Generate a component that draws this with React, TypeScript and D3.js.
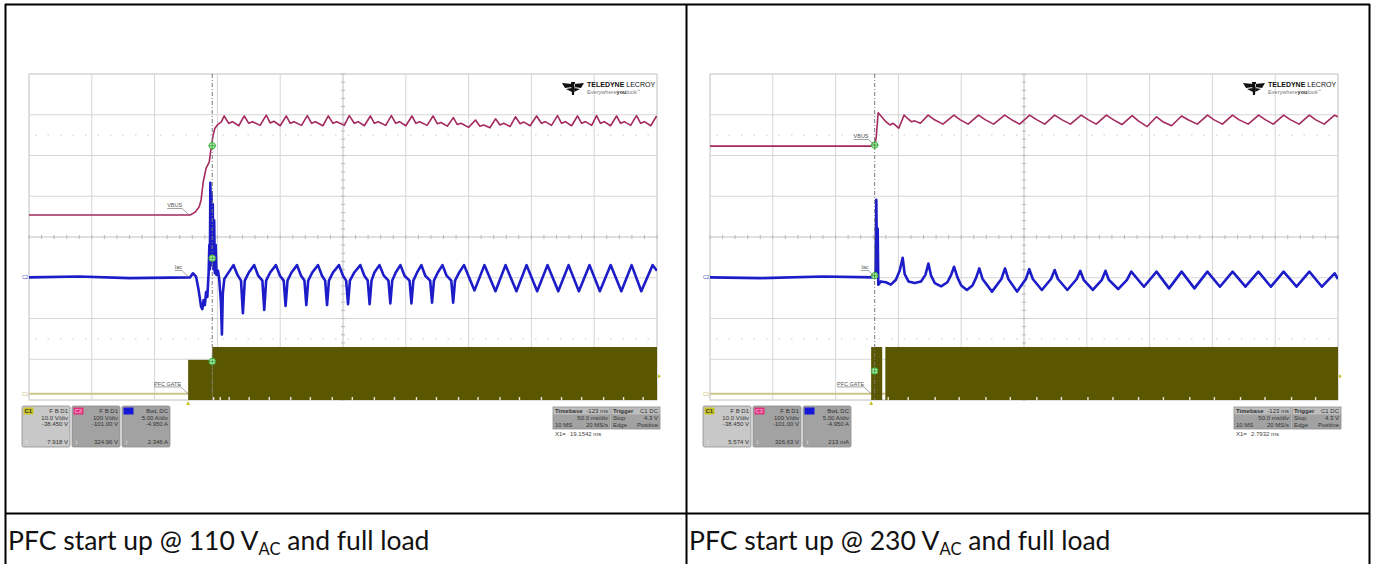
import React from 'react';
import * as d3 from 'd3';

type Pt = [number, number];

// screen: 10 div x 50 ms, 8 div vertical
const timeDivs = [0, 50, 100, 150, 200, 250, 300, 350, 400, 450, 500];
const vertDivs = [-4, -3, -2, -1, 0, 1, 2, 3, 4];

// channel settings (C1 = PFC gate, C2 = VBUS, C3 = Iac)
const channelNames = ['C1', 'C2', 'C3'];
const channelVdiv = [10, 100, 5];
const channelOffset = [-38.45, -101, -4.95];
const channelColors = ['#5b5600', '#a3295e', '#1c1cc8'];
const channelTagColors = ['#c9c323', '#e2307f', '#1616d6'];

const readoutHead = ['F B D1', 'F B D1', 'BwL DC'];
const readoutScale = ['10.0 V/div', '100 V/div', '5.00 A/div'];
const readoutOffset = ['-38.450 V', '-101.00 V', '-4.950 A'];
const timebaseRows = [['Timebase', '-123 ms'], ['', '50.0 ms/div'], ['10 MS', '20 MS/s']];
const triggerRows = [['Trigger', 'C1 DC'], ['Stop', '4.3 V'], ['Edge', 'Positive']];
const triggerLevel = 4.3;

// ---- 110 VAC capture ----
const leftVbus: Pt[] = [
  [0, 155], [126.7, 155], [128.3, 155], [132.3, 162], [135.5, 175], [137, 192], [138.7, 236], [141, 270],
  [143.5, 285], [145, 319], [146.6, 351], [148, 368], [150.6, 378], [153, 383], [155.4, 398],
  [159, 380], [162, 384], [167, 374], [171.4, 398], [175, 380], [178, 384], [184, 375], [188.9, 400],
  [192, 381], [195, 385], [200, 374], [204.8, 398], [208, 380], [211, 384], [217, 375], [221.6, 399],
  [225, 380], [228, 384], [234, 374], [238.3, 398], [242, 380], [245, 384], [251, 375], [255, 399],
  [259, 380], [262, 384], [267, 374], [271.8, 398], [275, 380], [278, 384], [284, 375], [288.5, 399],
  [292, 380], [295, 384], [300, 374], [304.9, 398], [308, 380], [311, 384], [317, 375], [321.7, 398],
  [325, 379], [328, 382], [333, 373], [337.9, 394], [341, 377], [344, 380], [350, 370], [355.5, 388],
  [359, 373], [362, 376], [367, 369], [371.4, 391], [375, 376], [378, 380], [383, 372], [387.3, 396],
  [391, 379], [394, 383], [399, 374], [404.1, 398], [408, 380], [411, 384], [416, 375], [420.8, 399],
  [424, 380], [427, 384], [432, 374], [436.7, 398], [440, 380], [443, 384], [448, 375], [451.9, 399],
  [455, 380], [458, 384], [463, 374], [467.8, 398], [471, 380], [474, 384], [479, 375], [483.7, 399],
  [487, 380], [490, 384], [495, 374], [499.7, 398],
];
const leftIac: Pt[] = [
  [0, 0], [40, 0.1], [80, -0.1], [128.3, 0], [130.5, 0.5], [133, 0.1], [135, -1.5], [137, -3.6], [138, -3.9],
  [139, -2.8], [140, -3.4], [141, -1.8], [142, -2.4], [143, 0.5], [143.6, 4], [144, 1], [144.4, 11.6],
  [144.9, 2], [145.3, 10.5], [145.8, 1.5], [146.3, 9], [146.8, 1], [147.4, 7], [148, 0.5], [148.6, 4],
  [149.3, 0.3], [150.5, 0.8], [151.5, -0.3], [152.8, -3], [153.6, -7], [154.3, -2], [155.5, -0.2], [158, 0.4],
  [162.8, 1.5], [166, 0.3], [168.8, -0.4], [170.3, -4.4], [171.8, -0.4], [175, 0.6], [179.3, 1.5],
  [182.5, 0.2], [185.8, -0.4], [187.3, -4.0], [188.8, -0.4], [192, 0.6], [196.6, 1.5], [199.8, 0.2],
  [202.8, -0.4], [204.3, -3.5], [205.8, -0.4], [209, 0.6], [213.4, 1.5], [216.6, 0.2], [219.3, -0.4],
  [220.8, -3.4], [222.3, -0.4], [225.5, 0.6], [230.1, 1.5], [233.3, 0.2], [235.8, -0.4], [237.3, -3.4],
  [238.8, -0.4], [242, 0.6], [246.8, 1.5], [250, 0.2], [252.5, -0.4], [254, -3.3], [255.5, -0.4],
  [259, 0.6], [263.8, 1.5], [267, 0.2], [269.7, -0.4], [271.2, -3.3], [272.7, -0.4], [275, 0.6],
  [279, 1.5], [282.5, 0.2], [286.2, -0.4], [287.7, -3.2], [289.2, -0.4], [292, 0.6], [295.7, 1.5],
  [299, 0.2], [303, -0.4], [304.5, -3.2], [306, -0.4], [309, 0.6], [312.4, 1.5], [315.5, 0.2],
  [319.4, -0.4], [320.9, -3.1], [322.4, -0.4], [325.5, 0.6], [329.2, 1.5], [332.5, 0.2], [336.2, -0.4],
  [337.7, -3.1], [339.2, -0.4], [342.5, 0.6], [346.3, 1.5], [354.7, -1.6], [362.6, 1.5], [371.4, -1.7],
  [379.4, 1.5], [388.1, -1.7], [396.1, 1.5], [404.6, -1.7], [412.8, 1.5], [421.4, -1.7], [429.6, 1.5],
  [437.8, -1.7], [446.3, 1.5], [454.5, -1.7], [463.1, 1.5], [471.6, -1.7], [479.8, 1.5], [487.5, -1.7],
  [496.5, 1.5], [500, 0.8],
];
const leftGateBase: Pt[] = [[0, 0], [126.7, 0]];
// [t start, t end, low V, high V] envelope of the switching gate drive
const leftGateBlocks = [[126.7, 145.9, -1.55, 8.3], [145.9, 500, -1.55, 11.46]];
const leftGateNotches = [147, 152.3, 159.4, 175.3, 191.3, 208.4, 224, 241.5, 257.4, 275, 291, 308.5, 324.4,
  342, 357.5, 375, 390.5, 408, 424, 440, 457.5, 473.4, 489];
const leftCursorT = 145.9;
const leftTrigT = 126.7;
const leftCursorVals = [7.918, 324.96, 2.346];
const leftReadoutVals = ['7.918 V', '324.96 V', '2.346 A'];
const leftX1 = '19.1542 ms';

// ---- 230 VAC capture ----
const rightVbus: Pt[] = [
  [0, 324], [131, 324], [132.3, 345], [133.9, 406], [137, 395], [140, 384], [143.2, 376], [145.8, 380],
  [150.3, 368], [154.5, 400], [158, 390], [160.3, 384], [163, 386], [167.5, 380], [173.7, 400], [178, 390],
  [185.5, 378], [194.2, 400], [199, 389], [205.5, 378], [213.8, 400], [219, 389], [225.8, 378], [234.6, 400],
  [240, 389], [246.5, 378], [254.5, 400], [260, 389], [266.5, 378], [274.4, 400], [280, 389], [287, 378],
  [295.5, 400], [301, 389], [307.5, 378], [315.6, 400], [321, 389], [328, 377], [336.1, 399], [341, 386],
  [348, 372], [355.5, 396], [361, 383], [367.5, 374], [375.4, 398], [381, 388], [388, 378], [396.1, 400],
  [401, 389], [408, 378], [416, 400], [421, 389], [428.5, 378], [436.8, 400], [442, 389], [448.5, 378],
  [456.7, 400], [462, 389], [469, 378], [477.2, 400], [482, 389], [489, 378], [497.3, 400], [500, 396],
];
const rightIac: Pt[] = [
  [0, 0], [40, -0.1], [90, 0.1], [131, 0], [131.8, 0.5], [132.4, 9.5], [133, 1], [133.5, 6], [134, -0.9],
  [136, -0.5], [140, -0.6], [144, -0.9], [148, -0.3], [151, 0.8], [153.4, 2.4], [155, 0.4], [158, -0.5],
  [163, -0.7], [168, -0.5], [171.5, 0.3], [173.9, 1.7], [176, 0.2], [179, -0.7], [184, -1.1], [189, -0.6],
  [192, 0.3], [194.3, 1.3], [197, 0], [200, -1.0], [204.5, -1.55], [209, -1.0], [212, 0], [214.4, 1.1],
  [217, -0.2], [224.5, -1.75], [232, -0.2], [234.9, 1.1], [237.5, -0.2], [244.5, -1.75], [251.5, -0.2],
  [254.2, 1.0], [257, -0.2], [264.2, -1.55], [271.5, -0.2], [274.4, 0.9], [277, -0.2], [284.5, -1.55],
  [292, -0.2], [294.8, 0.8], [297.5, -0.3], [304.8, -1.55], [312, -0.3], [314.9, 0.8], [317.5, -0.3],
  [325, -1.45], [332, -0.3], [335.4, 0.7], [345.5, -1.15], [355.5, 0.7], [365.5, -1.35], [375.5, 0.7],
  [385.7, -1.35], [396, 0.7], [406, -1.15], [416.1, 0.7], [426.3, -1.15], [436.6, 0.7], [446.6, -1.15],
  [456.7, 0.7], [467, -1.15], [477.2, 0.7], [487.2, -1.15], [497.3, 0.5], [500, -0.2],
];
const rightGateBase: Pt[] = [[0, 0], [139.6, 0]];
const rightGateBlocks = [[128.3, 137.1, -1.55, 11.46], [139.6, 500, -1.55, 11.46]];
const rightGateNotches = [141.9, 157.8, 179.3, 198.4, 219.7, 239.1, 260.2, 279.8, 300.9, 320.8, 341.2, 361,
  382, 401.6, 422.4, 441.9, 463, 482.2];
const rightCursorT = 131.1;
const rightTrigT = 128.3;
const rightCursorVals = [5.574, 326.63, 0.213];
const rightReadoutVals = ['5.574 V', '326.63 V', '213 mA'];
const rightX1 = '2.7932 ms';

const captions = ['110', '230'];

const small = { fontFamily: 'Liberation Sans, Arial, sans-serif', fontSize: 6 };

interface ScopeProps {
  id: string;
  cellX: number;
  vbus: Pt[];
  iac: Pt[];
  gateBase: Pt[];
  gateBlocks: number[][];
  gateNotches: number[];
  cursorT: number;
  trigT: number;
  cursorVals: number[];
  readoutVals: string[];
  x1: string;
}

const Scope: React.FC<ScopeProps> = (p) => {
  const x0 = p.cellX + 23;
  const y0 = 74;
  const w = 628;
  const h = 326;
  const xs = d3.scaleLinear().domain([0, 500]).range([x0, x0 + w]);
  const divY = d3.scaleLinear().domain([-4, 4]).range([y0 + h, y0]);
  const chY = channelVdiv.map((vd, i) => {
    const c = -channelOffset[i];
    return d3.scaleLinear().domain([c - 4 * vd, c + 4 * vd]).range([y0 + h, y0]);
  });
  const [yG, yV, yI] = chY;
  const lineV = d3.line<Pt>().x(d => xs(d[0])).y(d => yV(d[1]));
  const lineI = d3.line<Pt>().x(d => xs(d[0])).y(d => yI(d[1]));
  const lineG = d3.line<Pt>().x(d => xs(d[0])).y(d => yG(d[1]));
  const minorY = d3.range(-4, 4.001, 0.2);
  const minorX = d3.range(0, 500.001, 10);
  const cx = xs(250);
  const cy = divY(0);

  const labels = [
    { text: 'VBUS', x: xs(p.vbus[1][0]) + 1, y: yV(p.vbus[1][1]) },
    { text: 'Iac', x: xs(p.vbus[1][0]) + 1, y: yI(0) },
    { text: 'PFC GATE', x: xs(p.trigT), y: yG(0) },
  ];

  const bx = x0 - 7;
  const tbx = x0 + 524;
  const lx = x0 + 533;
  const ly = 80;

  return (
    <g>
      <defs>
        <clipPath id={`clip-${p.id}`}>
          <rect x={x0} y={y0} width={w} height={h} />
        </clipPath>
      </defs>
      {/* grid */}
      <rect x={x0} y={y0} width={w} height={h} fill="#fff" stroke="#d0d0d0" />
      {timeDivs.map(t => (
        <line key={'v' + t} x1={xs(t)} x2={xs(t)} y1={y0} y2={y0 + h} stroke={t === 250 ? '#c0c0c0' : '#d6d6d6'} />
      ))}
      {vertDivs.map(d => (
        <line key={'h' + d} x1={x0} x2={x0 + w} y1={divY(d)} y2={divY(d)} stroke={d === 0 ? '#c0c0c0' : '#d6d6d6'} />
      ))}
      {[2.5, -2.5].map(d => (
        <line key={'dot' + d} x1={x0 + 6} x2={x0 + w} y1={divY(d)} y2={divY(d)} stroke="#cdcdcd" strokeDasharray="1.5,11" />
      ))}
      {minorY.map((d, i) => (
        <line key={'my' + i} x1={cx - 2} x2={cx + 2} y1={divY(d)} y2={divY(d)} stroke="#b8b8b8" />
      ))}
      {minorX.map((t, i) => (
        <line key={'mx' + i} x1={xs(t)} x2={xs(t)} y1={cy - 2} y2={cy + 2} stroke="#b8b8b8" />
      ))}

      {/* logo */}
      <g transform={`translate(${lx},${ly})`}>
        <path d="M0,3 L10,4 L10,7 L3,8 Z M22,3 L12,4 L12,7 L19,8 Z M9,2 L13,2 L12,15 L10,15 Z M4,9 L9.5,8 L10,12 Z M18,9 L12.5,8 L12,12 Z" fill="#111" />
        <text x={25} y={7} style={{ ...small, fontSize: 7 }} fill="#111">
          <tspan fontWeight="bold">TELEDYNE</tspan> LECROY
        </text>
        <text x={25} y={13.5} style={{ ...small, fontSize: 5.6 }} fill="#777">
          Everywhere<tspan fontWeight="bold" fill="#333">you</tspan>look<tspan fontSize={3.5} dy={-2}>™</tspan>
        </text>
      </g>

      {/* traces */}
      <g clipPath={`url(#clip-${p.id})`}>
        <path d={lineG(p.gateBase) || ''} fill="none" stroke="#cbc58c" strokeWidth={2} />
        {p.gateBlocks.map((b, i) => (
          <rect key={'gb' + i} x={xs(b[0])} y={yG(b[3])} width={xs(b[1]) - xs(b[0])} height={yG(b[2]) - yG(b[3])}
            fill={channelColors[0]} />
        ))}
        {p.gateNotches.map((t, i) => (
          <rect key={'gn' + i} x={xs(t) - 0.7} y={yG(-1.55) - 3} width={1.4} height={3} fill="#fff" opacity={0.85} />
        ))}
        <path d={lineV(p.vbus) || ''} fill="none" stroke={channelColors[1]} strokeWidth={1.6} strokeLinejoin="round" />
        <path d={lineI(p.iac) || ''} fill="none" stroke={channelColors[2]} strokeWidth={2.6} strokeLinejoin="round" />
        <line x1={xs(p.cursorT)} x2={xs(p.cursorT)} y1={y0} y2={y0 + h} stroke="#7a7a7a" strokeDasharray="4,2,1,2" />
      </g>

      {/* cursor markers */}
      {p.cursorVals.map((v, i) => {
        const mx = xs(p.cursorT);
        const my = chY[i](v);
        return (
          <g key={'cm' + i}>
            <circle cx={mx} cy={my} r={3.2} fill="#b7ecb4" stroke="#45b545" strokeWidth={1} />
            <line x1={mx - 4} x2={mx + 4} y1={my} y2={my} stroke="#2d9d2d" strokeWidth={0.8} />
            <line x1={mx} x2={mx} y1={my - 4} y2={my + 4} stroke="#2d9d2d" strokeWidth={0.8} />
          </g>
        );
      })}

      {/* trace labels */}
      {labels.map((l, i) => {
        const tx = l.x - 7;
        const ty = l.y - 8;
        return (
          <g key={'lb' + i}>
            <text x={tx} y={ty} textAnchor="end" style={{ ...small, fontSize: 5.5 }} fill="#555" textDecoration="underline">{l.text}</text>
            <line x1={tx} x2={l.x} y1={ty + 1.5} y2={l.y} stroke="#666" strokeWidth={0.6} />
          </g>
        );
      })}

      {/* channel ground tags and trigger markers */}
      <text x={x0 - 7} y={yI(0) + 2} style={{ ...small, fontSize: 5 }} fill="#5656c8">C2</text>
      <text x={x0 - 7} y={yG(0) + 2} style={{ ...small, fontSize: 5 }} fill="#c8c27a">C1</text>
      <path d={`M${x0 + w + 1},${yG(triggerLevel) - 2} L${x0 + w + 4},${yG(triggerLevel)} L${x0 + w + 1},${yG(triggerLevel) + 2} Z`} fill="#c9c323" />
      <path d={`M${xs(p.trigT) - 2},${y0 + h + 5} L${xs(p.trigT)},${y0 + h + 1} L${xs(p.trigT) + 2},${y0 + h + 5} Z`} fill="#c9c323" />

      {/* channel readouts */}
      {channelNames.map((c, i) => {
        const x = bx + i * 50;
        const y = 406;
        return (
          <g key={'ro' + i}>
            <rect x={x} y={y} width={48} height={41} rx={1.5} fill={i === 0 ? '#c8c8c8' : '#a2a2a2'} stroke="#8e8e8e" strokeWidth={0.8} />
            <rect x={x + 1.5} y={y + 1.5} width={10} height={7} fill={channelTagColors[i]} />
            {i < 2 && <text x={x + 2.5} y={y + 7.3} style={{ ...small, fontSize: 6, fontWeight: 'bold' }} fill={i === 0 ? '#333' : '#f6a6c8'}>{c}</text>}
            <text x={x + 46} y={y + 7} textAnchor="end" style={small} fill="#333">{readoutHead[i]}</text>
            <text x={x + 46} y={y + 14} textAnchor="end" style={small} fill="#333">{readoutScale[i]}</text>
            <text x={x + 46} y={y + 20} textAnchor="end" style={small} fill="#333">{readoutOffset[i]}</text>
            <text x={x + 3} y={y + 38} style={small} fill="#f2f2f2">↕</text>
            <text x={x + 46} y={y + 38} textAnchor="end" style={small} fill="#333">{p.readoutVals[i]}</text>
          </g>
        );
      })}

      {/* timebase / trigger */}
      {[timebaseRows, triggerRows].map((rows, k) => {
        const x = tbx + k * 58;
        const bw = k === 0 ? 57 : 49;
        return (
          <g key={'tb' + k}>
            <rect x={x} y={407} width={bw} height={22} fill="#a2a2a2" stroke="#8e8e8e" strokeWidth={0.8} />
            <rect x={x + 0.5} y={407.5} width={bw - 1} height={7} fill="#bdbdbd" />
            {rows.map((r, j) => (
              <g key={j}>
                <text x={x + 2} y={413 + j * 7} style={small} fill="#333" fontWeight={j === 0 ? 'bold' : 'normal'}>{r[0]}</text>
                <text x={x + bw - 2} y={413 + j * 7} textAnchor="end" style={small} fill="#333">{r[1]}</text>
              </g>
            ))}
          </g>
        );
      })}
      <text x={tbx + 2} y={436} style={small} fill="#444">X1=</text>
      <text x={tbx + 17} y={436} style={small} fill="#444">{p.x1}</text>
    </g>
  );
};

const App: React.FC = () => {
  const cellXs = [6, 687];
  return (
    <div style={{ position: 'absolute', left: 0, top: 0 }}>
      <svg width={1375} height={564} style={{ display: 'block', background: '#fff' }}>
        <Scope id="l" cellX={cellXs[0]} vbus={leftVbus} iac={leftIac} gateBase={leftGateBase}
          gateBlocks={leftGateBlocks} gateNotches={leftGateNotches} cursorT={leftCursorT} trigT={leftTrigT}
          cursorVals={leftCursorVals} readoutVals={leftReadoutVals} x1={leftX1} />
        <Scope id="r" cellX={cellXs[1]} vbus={rightVbus} iac={rightIac} gateBase={rightGateBase}
          gateBlocks={rightGateBlocks} gateNotches={rightGateNotches} cursorT={rightCursorT} trigT={rightTrigT}
          cursorVals={rightCursorVals} readoutVals={rightReadoutVals} x1={rightX1} />

        {/* table rules */}
        <g stroke="#000" strokeWidth={2}>
          <line x1={5} x2={1370} y1={4.5} y2={4.5} />
          <line x1={5} x2={1370} y1={513.5} y2={513.5} />
          <line x1={5.5} x2={5.5} y1={4} y2={564} />
          <line x1={686.5} x2={686.5} y1={4} y2={564} />
          <line x1={1369.5} x2={1369.5} y1={4} y2={564} />
        </g>

        {captions.map((v, i) => (
          <text key={v} x={cellXs[i] + 2} y={550} style={{ fontFamily: 'Lato, sans-serif', fontSize: 26.5 }} fill="#111">
            PFC start up @ {v} V<tspan fontSize={16.5} dy={5}>AC</tspan><tspan dy={-5}> and full load</tspan>
          </text>
        ))}
      </svg>
    </div>
  );
};

export default App;
